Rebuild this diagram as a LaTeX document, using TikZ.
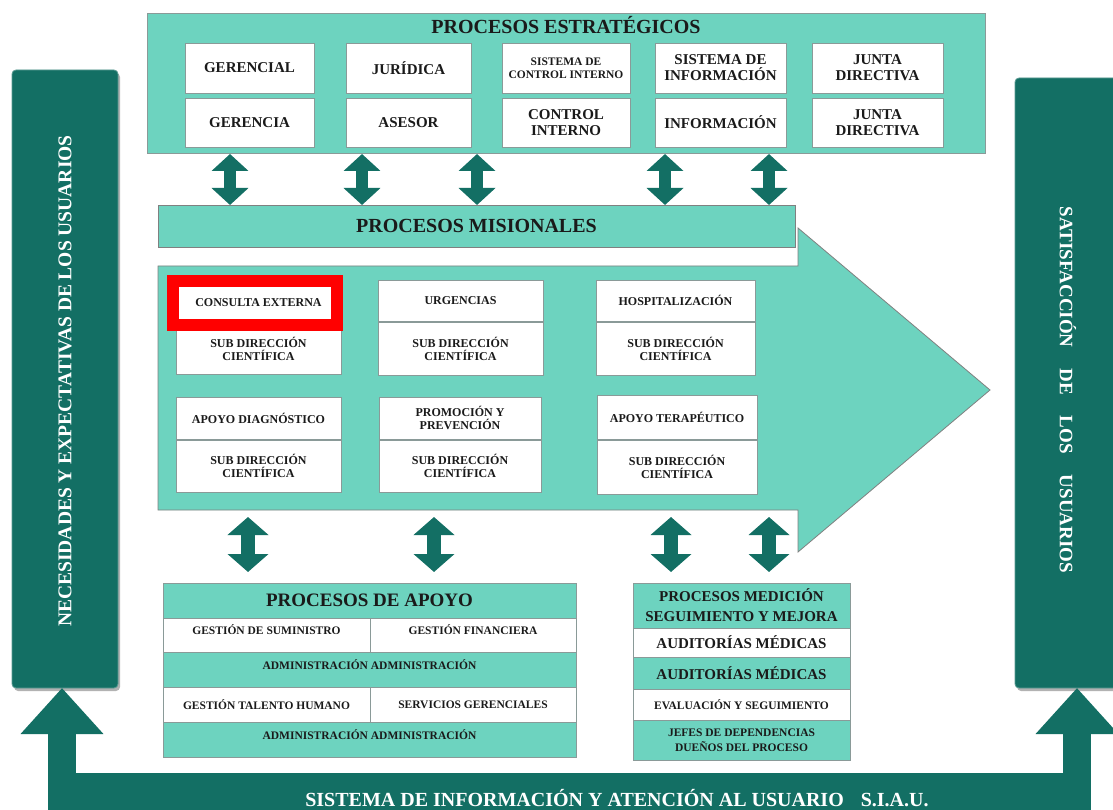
\documentclass[tikz,border=0pt]{standalone}
\usepackage{fontspec}
\usepackage{graphicx}
\setmainfont{Liberation Serif}
\usetikzlibrary{arrows.meta,shadows}
\definecolor{lteal}{HTML}{6DD3BF}
\definecolor{dteal}{HTML}{136F64}
\definecolor{bline}{HTML}{8A9A98}
\definecolor{txt}{HTML}{1A1A1A}
\newcommand\fsz[2]{\fontsize{#1}{#2}\selectfont\bfseries}
\tikzset{
  box/.style={anchor=north west, draw=bline, line width=0.7pt, inner sep=1pt, outer sep=0pt, align=center, text=txt},
  wbox/.style={box, fill=white},
  tbox/.style={box, fill=lteal},
  dbl/.style={dteal, line width=12pt, {Triangle[length=17pt,width=36pt]}-{Triangle[length=17pt,width=36pt]}},
  dblb/.style={dteal, line width=14pt, {Triangle[length=18pt,width=40pt]}-{Triangle[length=18pt,width=40pt]}},
  uparrow/.style={dteal, line width=28pt, -{Triangle[length=46pt,width=80pt]}},
  side/.style={anchor=north west, fill=dteal, draw=dteal!70!white, line width=0.8pt, rounded corners=4pt, inner sep=0pt, outer sep=0pt, text=white,
    drop shadow={fill=black, opacity=0.3, shadow xshift=2pt, shadow yshift=-3pt}},
  top/.style={font=\fsz{15}{16}},
  inn/.style={font=\fsz{12}{13}},
}
\begin{document}
\begin{tikzpicture}[x=1pt, y=-1pt]
\useasboundingbox (0,0) rectangle (1113,810);
\fill[white] (0,0) rectangle (1113,810);

% ---------- Procesos estrategicos ----------
\node[tbox, minimum width=838, minimum height=140] (estr) at (147,13) {};
\node[text=txt, font=\fsz{20}{22}] (estrt) at (566,25) {PROCESOS ESTRATÉGICOS};
\node[wbox, top, minimum width=129, minimum height=50] (g1) at (185,43) {GERENCIAL};
\node[wbox, top, minimum width=125, minimum height=50] (j1) at (346,43) {JURÍDICA};
\node[wbox, font=\fsz{11.5}{13}, minimum width=128, minimum height=50] (s1) at (502,43) {SISTEMA DE\\CONTROL INTERNO};
\node[wbox, top, minimum width=131, minimum height=50] (i1) at (655,43) {SISTEMA DE\\INFORMACIÓN};
\node[wbox, top, minimum width=131, minimum height=50] (d1) at (812,43) {JUNTA\\DIRECTIVA};
\node[wbox, top, minimum width=129, minimum height=49] (g2) at (185,98) {GERENCIA};
\node[wbox, top, minimum width=125, minimum height=49] (j2) at (346,98) {ASESOR};
\node[wbox, top, minimum width=128, minimum height=49] (s2) at (502,98) {CONTROL\\INTERNO};
\node[wbox, top, minimum width=131, minimum height=49] (i2) at (655,98) {INFORMACIÓN};
\node[wbox, top, minimum width=131, minimum height=49] (d2) at (812,98) {JUNTA\\DIRECTIVA};

% ---------- Procesos misionales ----------
\node[tbox, draw=gray, minimum width=637, minimum height=42, font=\fsz{20}{22}] (mis) at (158,205) {PROCESOS MISIONALES};

\foreach \n/\x in {u1/230,u2/362,u3/477,u4/665,u5/769}{
  \coordinate (\n) at (\x,180);
  \draw[dbl] (estr.south -| \n) ++(0,1) -- (mis.north -| \n);
}

% big arrow
\draw[fill=lteal, draw=gray, line width=0.8pt] (158,266) -- (798,266) -- (798,228) -- (990,390) -- (798,552) -- (798,510) -- (158,510) -- cycle;
\coordinate (body) at (158,510);

\node[wbox, inn, minimum width=165, minimum height=40] (ce) at (176,283) {CONSULTA EXTERNA};
\node[wbox, inn, minimum width=165, minimum height=51] (sb1) at (176,323) {SUB DIRECCIÓN\\CIENTÍFICA};
\node[wbox, inn, minimum width=165, minimum height=41] (urg) at (378,280) {URGENCIAS};
\node[wbox, inn, minimum width=165, minimum height=53] (sb2) at (378,322) {SUB DIRECCIÓN\\CIENTÍFICA};
\node[wbox, inn, minimum width=159, minimum height=41] (hos) at (596,280) {HOSPITALIZACIÓN};
\node[wbox, inn, minimum width=159, minimum height=53] (sb3) at (596,322) {SUB DIRECCIÓN\\CIENTÍFICA};
\node[wbox, inn, minimum width=165, minimum height=42] (apd) at (176,397) {APOYO DIAGNÓSTICO};
\node[wbox, inn, minimum width=165, minimum height=52] (sb4) at (176,440) {SUB DIRECCIÓN\\CIENTÍFICA};
\node[wbox, inn, minimum width=162, minimum height=42] (pyp) at (379,397) {PROMOCIÓN Y\\PREVENCIÓN};
\node[wbox, inn, minimum width=162, minimum height=52] (sb5) at (379,440) {SUB DIRECCIÓN\\CIENTÍFICA};
\node[wbox, inn, minimum width=160, minimum height=44] (apt) at (597,395) {APOYO TERAPÉUTICO};
\node[wbox, inn, minimum width=160, minimum height=54] (sb6) at (597,440) {SUB DIRECCIÓN\\CIENTÍFICA};

\node[draw=red, line width=12pt, minimum width=164, minimum height=44, anchor=north west, inner sep=0pt, outer sep=0pt] (hl) at (173,281) {};

% lower double arrows
\foreach \n/\x in {l1/248,l2/434,l3/671,l4/769}{
  \coordinate (\n a) at (\x,517);
  \coordinate (\n b) at (\x,572);
  \draw[dblb] (\n a) -- (\n b);
}

% ---------- Procesos de apoyo ----------
\node[tbox, minimum width=413, minimum height=35, font=\fsz{19}{21}] (apo) at (163,583) {PROCESOS DE APOYO};
\node[wbox, font=\fsz{11.5}{13}, minimum width=207, minimum height=34, text depth=10pt] (gsum) at (163,618) {GESTIÓN DE SUMINISTRO};
\node[wbox, font=\fsz{11.5}{13}, minimum width=206, minimum height=34, text depth=10pt] (gfin) at (370,618) {GESTIÓN FINANCIERA};
\node[tbox, font=\fsz{11.5}{13}, minimum width=413, minimum height=35, text depth=10pt] (adm1) at (163,652) {ADMINISTRACIÓN ADMINISTRACIÓN};
\node[wbox, font=\fsz{11.5}{13}, minimum width=207, minimum height=35] (gth) at (163,687) {GESTIÓN TALENTO HUMANO};
\node[wbox, font=\fsz{11.5}{13}, minimum width=206, minimum height=35] (sger) at (370,687) {SERVICIOS GERENCIALES};
\node[tbox, font=\fsz{11.5}{13}, minimum width=413, minimum height=35, text depth=10pt] (adm2) at (163,722) {ADMINISTRACIÓN ADMINISTRACIÓN};

% ---------- Procesos medicion ----------
\node[tbox, font=\fsz{15}{20}, minimum width=217, minimum height=45] (med) at (633,583) {PROCESOS MEDICIÓN\\SEGUIMIENTO Y MEJORA};
\node[wbox, font=\fsz{15}{16}, minimum width=217, minimum height=29] (aud1) at (633,628) {AUDITORÍAS MÉDICAS};
\node[tbox, font=\fsz{15}{16}, minimum width=217, minimum height=32] (aud2) at (633,657) {AUDITORÍAS MÉDICAS};
\node[wbox, font=\fsz{11.5}{13}, minimum width=217, minimum height=31] (eval) at (633,689) {EVALUACIÓN Y SEGUIMIENTO};
\node[tbox, font=\fsz{11.5}{15}, minimum width=217, minimum height=40] (jef) at (633,720) {JEFES DE DEPENDENCIAS\\DUEÑOS DEL PROCESO};

% ---------- side boxes ----------
\node[side, minimum width=106, minimum height=618] (nec) at (12,70) {};
\node[text=white, rotate=90, font=\fsz{19.5}{21}] (nect) at (65,381) {NECESIDADES Y EXPECTATIVAS DE LOS USUARIOS};
\node[side, minimum width=112, minimum height=610] (sat) at (1015,78) {};
\node[text=white, rotate=-90, font=\fsz{19}{21}] (satt) at (1068,390) {SATISFACCIÓN\hspace{1.1em}DE\hspace{1.1em}LOS\hspace{1.1em}USUARIOS};

% ---------- SIAU ----------
\coordinate (la) at (62,790);
\coordinate (ra) at (1077,790);
\draw[uparrow] (la) -- (la |- nec.south);
\draw[uparrow] (ra) -- (ra |- sat.south);
\node[anchor=north west, fill=dteal, minimum width=1043, minimum height=55, inner sep=0pt, outer sep=0pt] (siau) at (48,773) {};
\node[text=white, font=\fsz{20}{22}] (siaut) at (617,798) {SISTEMA DE INFORMACIÓN Y ATENCIÓN AL USUARIO\hspace{0.6em} S.I.A.U.};
\end{tikzpicture}
\end{document}
